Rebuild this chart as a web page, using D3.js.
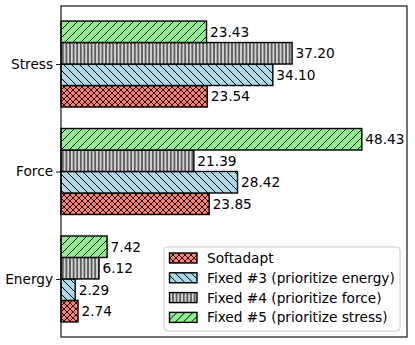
<!DOCTYPE html>
<html>
<head>
<meta charset="utf-8">
<script src="https://cdn.jsdelivr.net/npm/d3@7"></script>
<style>
body { margin: 0; background: #fff; }
text { font-family: "DejaVu Sans", sans-serif; font-size: 13.7px; fill: #000; }
</style>
</head>
<body>
<svg width="415" height="345"></svg>
<script>
var categories = ["Energy", "Force", "Stress"];
var seriesNames = ["Softadapt", "Fixed #3 (prioritize energy)", "Fixed #4 (prioritize force)", "Fixed #5 (prioritize stress)"];
var softadapt = [2.74, 23.85, 23.54];
var fixed3 = [2.29, 28.42, 34.10];
var fixed4 = [6.12, 21.39, 37.20];
var fixed5 = [7.42, 48.43, 23.43];
var allSeries = [softadapt, fixed3, fixed4, fixed5];

var colors = ["#fa8072", "#add8e6", "#d3d3d3", "#90ee90"];
var hatchIds = ["h-cross", "h-back", "h-vert", "h-fwd"];

var svg = d3.select("svg"),
margin = {top: 6, right: 8, bottom: 8, left: 61},
width = 415 - margin.left - margin.right,
height = 345 - margin.top - margin.bottom;

var defs = svg.append("defs");

function pattern(id, size, color, lines, sw) {
var p = defs.append("pattern")
  .attr("id", id)
  .attr("patternUnits", "userSpaceOnUse")
  .attr("width", size).attr("height", size);
p.append("rect").attr("width", size).attr("height", size).attr("fill", color);
lines.forEach(function(l) {
  p.append("line")
    .attr("x1", l[0]).attr("y1", l[1]).attr("x2", l[2]).attr("y2", l[3])
    .attr("stroke", "#000").attr("stroke-width", sw);
});
}
var s = 6;
pattern("h-cross", s, colors[0], [[0, s, s, 0], [-s, s, s, -s], [0, 2 * s, 2 * s, 0], [0, 0, s, s], [-s, 0, s, 2 * s], [0, -s, 2 * s, s]], 0.9);
var d = 8;
pattern("h-back", d, colors[1], [[0, 0, d, d], [-d, 0, d, 2 * d], [0, -d, 2 * d, d]], 1);
pattern("h-fwd", d, colors[3], [[0, d, d, 0], [-d, d, d, -d], [0, 2 * d, 2 * d, 0]], 1);
var v = 3.6;
pattern("h-vert", v, colors[2], [[v / 2, 0, v / 2, v]], 1);

var g = svg.append("g").attr("transform", "translate(" + margin.left + "," + margin.top + ")");

var x = d3.scaleLinear().domain([0, 55.7]).range([0, width]);
var y = d3.scaleLinear().domain([-0.54, 2.54]).range([height, 0]);
var barH = 0.2;

allSeries.forEach(function(vals, i) {
var grp = g.append("g");
vals.forEach(function(val, c) {
  var center = c + (i - 1.5) * barH;
  grp.append("rect")
    .attr("x", x(0))
    .attr("y", y(center + barH / 2))
    .attr("width", x(val) - x(0))
    .attr("height", y(center - barH / 2) - y(center + barH / 2))
    .attr("fill", "url(#" + hatchIds[i] + ")")
    .attr("stroke", "#000")
    .attr("stroke-width", 1.4);
  grp.append("text")
    .attr("x", x(val) + 3.5)
    .attr("y", y(center))
    .attr("dy", "0.36em")
    .text(val.toFixed(2));
});
});

// frame
g.append("rect")
  .attr("width", width).attr("height", height)
  .attr("fill", "none").attr("stroke", "#000").attr("stroke-width", 1.1);

g.append("g")
  .call(d3.axisLeft(y).tickValues([0, 1, 2]).tickFormat(function(i) { return categories[i]; }).tickSize(4.9).tickPadding(3))
  .call(function(a) { a.select(".domain").remove(); })
  .call(function(a) { a.selectAll("text").style("font-size", "13.7px").style("font-family", "DejaVu Sans"); });

// legend
var legend = g.append("g").attr("transform", "translate(" + (164 - margin.left) + "," + (247 - margin.top) + ")");
legend.append("rect")
  .attr("width", 236).attr("height", 84)
  .attr("rx", 3)
  .attr("fill", "#fff").attr("fill-opacity", 0.8)
  .attr("stroke", "#ccc").attr("stroke-width", 1);
seriesNames.forEach(function(name, i) {
var row = legend.append("g").attr("transform", "translate(0," + (11 + i * 19.8) + ")");
row.append("rect")
  .attr("x", 5.5).attr("y", -5)
  .attr("width", 27.5).attr("height", 10)
  .attr("fill", "url(#" + hatchIds[i] + ")")
  .attr("stroke", "#000").attr("stroke-width", 1.4);
row.append("text")
  .attr("x", 43).attr("dy", "0.36em")
  .text(name);
});
</script>
</body>
</html>
